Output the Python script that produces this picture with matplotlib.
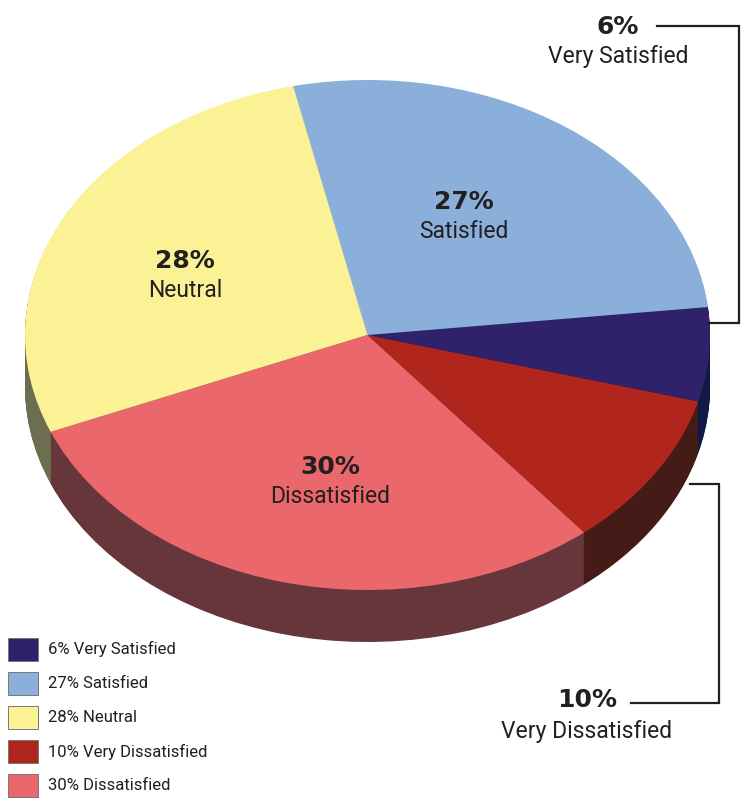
import matplotlib
matplotlib.use('Agg')
import matplotlib.pyplot as plt
from matplotlib.patches import Rectangle

# slices, counter clockwise starting from the Satisfied / Very Satisfied edge
labels = ['Satisfied', 'Neutral', 'Dissatisfied', 'Very Dissatisfied', 'Very Satisfied']
values = [27, 28, 30, 10, 6]
top_colors = ['#8aafdb', '#fbf296', '#ea676b', '#b0261d', '#30216b']
side_colors = ['#8aafdb', '#6d6d50', '#66363a', '#451b18', '#0f1a45']

legend_labels = ['6% Very Satisfied', '27% Satisfied', '28% Neutral',
                 '10% Very Dissatisfied', '30% Dissatisfied']
legend_colors = ['#30216b', '#8aafdb', '#fbf296', '#b0261d', '#ea676b']

W, H = 749, 804
cx, cy = 367.5, 336
rx, ry = 342.5, 255
depth = 52
start = 6.3

plt.rcParams['font.family'] = ['Roboto', 'DejaVu Sans']
txt = '#231f20'

fig = plt.figure(figsize=(W / 100, H / 100), dpi=100, facecolor='white')

# the pie axes is stretched so the round pie comes out as an ellipse
ax = fig.add_axes([0, 0, 1, 1])
for d in range(depth, 0, -1):
    ax.pie(values, colors=side_colors, startangle=start, center=(0, -d / ry),
           wedgeprops={'linewidth': 0.6, 'edgecolor': 'none'})
ax.pie(values, colors=top_colors, startangle=start, center=(0, 0))
ax.set_aspect('auto')
ax.set_xlim(-cx / rx, (W - cx) / rx)
ax.set_ylim(-(H - cy) / ry, cy / ry)

# overlay in pixels for the notes and the legend
ov = fig.add_axes([0, 0, 1, 1], facecolor='none')
ov.set_xlim(0, W)
ov.set_ylim(H, 0)
ov.axis('off')


def note(x, y, pct, name, y2):
    ov.text(x, y, pct, ha='center', va='center', fontsize=18, fontweight='bold',
            family='DejaVu Sans', color=txt)
    ov.text(x, y2, name, ha='center', va='center', fontsize=16.5, color=txt)


note(464, 202, '27%', 'Satisfied', 232)
note(185, 261, '28%', 'Neutral', 291)
note(330, 467, '30%', 'Dissatisfied', 497)
note(618, 27, '6%', 'Very Satisfied', 56)
note(587, 700, '10%', 'Very Dissatisfied', 732)

ov.plot([657, 739, 739, 708], [27, 27, 324, 324], color='#231f20', lw=1.6, solid_joinstyle='miter')
ov.plot([690, 719, 719, 631], [485, 485, 704, 704], color='#231f20', lw=1.6, solid_joinstyle='miter')

for i, (name, col) in enumerate(zip(legend_labels, legend_colors)):
    y = 650 + i * 34.2
    ov.add_patch(Rectangle((7.5, y - 11.5), 30, 23, facecolor=col, edgecolor='#777777', lw=0.7))
    ov.text(48, y - 1, name, ha='left', va='center', fontsize=12, color=txt)

fig.savefig('out.png', dpi=100)
